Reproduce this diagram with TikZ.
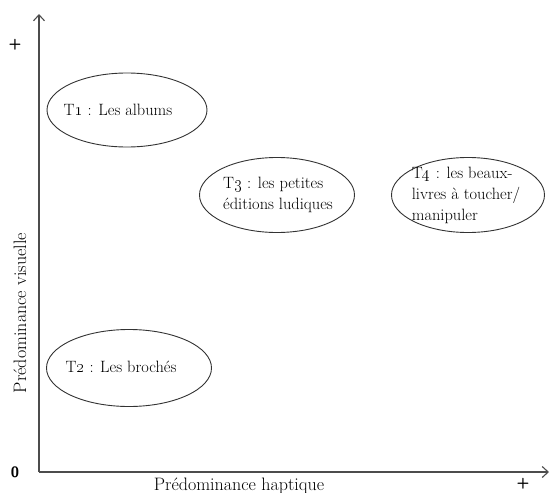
\documentclass[tikz,border=0pt]{standalone}
\usetikzlibrary{shapes.geometric,arrows.meta}
\begin{document}
\begin{tikzpicture}[x=1pt,y=-1pt,
  axis/.style={draw=black!70,line width=1.1pt,-{Straight Barb[length=6pt,width=11pt]}},
  oval/.style={draw=black!80,line width=0.9pt,ellipse,inner sep=0pt},
  lbl/.style={font=\fontsize{16.4}{21}\selectfont,align=left,inner sep=0pt},
  axlbl/.style={font=\fontsize{18}{20}\selectfont,inner sep=0pt},
  pm/.style={font=\sffamily\bfseries\fontsize{15}{15}\selectfont,inner sep=0pt}]
\useasboundingbox (0,0) rectangle (550,493);
\coordinate (o) at (39,472);
\coordinate (ytop) at (39,14);
\coordinate (xend) at (549,472);
\draw[axis] (o) -- (ytop);
\draw[axis] (o) -- (xend);
\node[pm] (plusy) at (15,45) {+};
\node[pm] (zero) at (15,472) {0};
\node[pm] (plusx) at (523,484) {+};
\node[axlbl,rotate=90] (ylab) at (20,313) {Prédominance visuelle};
\node[axlbl] (xlab) at (239,486) {Prédominance haptique};
\node[oval,minimum width=160pt,minimum height=74pt] (t1) at (127,110) {};
\node[lbl] (t1l) at (118,110) {T\oldstylenums{1} : Les albums};
\node[oval,minimum width=165pt,minimum height=77pt] (t2) at (129,368) {};
\node[lbl] (t2l) at (121,367) {T\oldstylenums{2} : Les brochés};
\node[oval,minimum width=155pt,minimum height=75pt] (t3) at (277,195) {};
\node[lbl] (t3l) at (278,195) {T\oldstylenums{3} : les petites\\éditions ludiques};
\node[oval,minimum width=153pt,minimum height=75pt] (t4) at (468,195) {};
\node[lbl] (t4l) at (466,195) {T\oldstylenums{4} : les beaux-\\livres à toucher/\\manipuler};
\end{tikzpicture}
\end{document}
